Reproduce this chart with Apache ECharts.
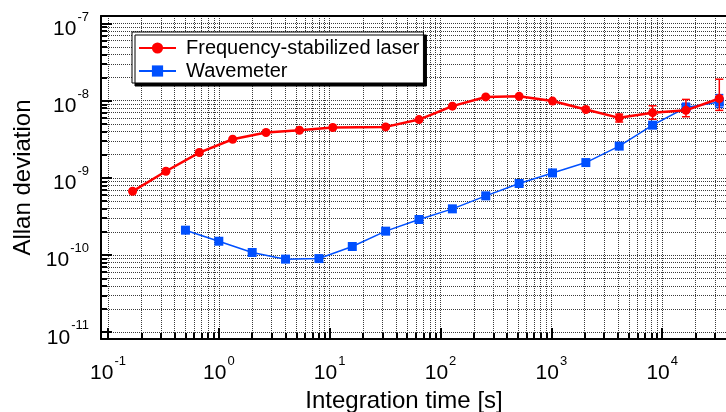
<!DOCTYPE html>
<html>
<head>
<meta charset="utf-8">
<script src="https://cdn.jsdelivr.net/npm/echarts@6/dist/echarts.min.js"></script>
<style>
html,body{margin:0;padding:0;background:#fff;}
#chart{width:726px;height:412px;}
</style>
</head>
<body>
<div id="chart"></div>
<script>
// ---- data ----
var RED_TAU  = [0.1667, 0.3333, 0.6667, 1.333, 2.667, 5.333, 10.67, 32, 64, 128, 256, 512, 1024, 2048, 4096, 8192, 16384, 32768];
var RED_ADEV = [6.7e-10, 1.22e-9, 2.13e-9, 3.17e-9, 3.87e-9, 4.15e-9, 4.5e-9, 4.58e-9, 5.7e-9, 8.5e-9, 1.12e-8, 1.14e-8, 9.9e-9, 7.7e-9, 6.0e-9, 7.0e-9, 7.5e-9, 1.07e-8];
var RED_ERR_TAU  = [4096, 8192, 16384, 32768];
var RED_ERR_LOW  = [5.3e-9, 5.75e-9, 6.2e-9, 7.5e-9];
var RED_ERR_HIGH = [6.7e-9, 8.6e-9, 1.04e-8, 1.9e-8];

var BLUE_TAU  = [0.5, 1, 2, 4, 8, 16, 32, 64, 128, 256, 512, 1024, 2048, 4096, 8192, 16384, 32768];
var BLUE_ADEV = [2.1e-10, 1.51e-10, 1.08e-10, 8.85e-11, 9.0e-11, 1.29e-10, 2.04e-10, 2.89e-10, 3.97e-10, 5.85e-10, 8.46e-10, 1.16e-9, 1.58e-9, 2.58e-9, 4.82e-9, 8.16e-9, 9.64e-9];
var BLUE_ERR_TAU  = [16384, 32768];
var BLUE_ERR_LOW  = [7.1e-9, 8.2e-9];
var BLUE_ERR_HIGH = [9.3e-9, 1.2e-8];

var X_MAJOR_EXP = [-1, 0, 1, 2, 3, 4, 5];
var Y_MAJOR_EXP = [-11, -10, -9, -8, -7];
var X_RANGE = [-1.063, 5.063];   // decades (log10 of seconds)
var Y_RANGE = [-11.088, -6.902]; // decades (log10 of Allan deviation)

var NAME_RED = 'Frequency-stabilized laser';
var NAME_BLUE = 'Wavemeter';

// ---- helpers ----
function minorValues(exps) {
  var out = [];
  for (var i = 0; i < exps.length - 1; i++) {
    for (var k = 1; k <= 9; k++) out.push(exps[i] + Math.log10(k));
  }
  out.push(exps[exps.length - 1]);
  return out;
}
function toLog(xs, ys) { return xs.map(function (x, i) { return [Math.log10(x), Math.log10(ys[i])]; }); }
function toLogErr(xs, lo, hi) { return xs.map(function (x, i) { return [Math.log10(x), Math.log10(lo[i]), Math.log10(hi[i])]; }); }

var FONT = '"Liberation Sans", Arial, Helvetica, sans-serif';
var labelRich = {
  b: { fontSize: 21, fontFamily: FONT, color: '#000', lineHeight: 22, verticalAlign: 'bottom' },
  s: { fontSize: 13, fontFamily: FONT, color: '#000', lineHeight: 13, verticalAlign: 'bottom', padding: [0, 0, 16, 1] }
};
function powLabel(v) { return '{b|10}{s|' + Math.round(v) + '}'; }

var gridStyle = { color: '#3a3a3a', width: 1, type: [1, 1] };

function errRenderer(color) {
  return function (params, api) {
    var x = api.value(0), lo = api.value(1), hi = api.value(2);
    var p1 = api.coord([x, lo]), p2 = api.coord([x, hi]);
    var w = 4;
    var st = { stroke: color, lineWidth: 1.5 };
    return { type: 'group', children: [
      { type: 'line', shape: { x1: p1[0], y1: p1[1], x2: p2[0], y2: p2[1] }, style: st },
      { type: 'line', shape: { x1: p1[0] - w, y1: p1[1], x2: p1[0] + w, y2: p1[1] }, style: st },
      { type: 'line', shape: { x1: p2[0] - w, y1: p2[1], x2: p2[0] + w, y2: p2[1] }, style: st }
    ] };
  };
}

var RED = '#ff0000', BLUE = '#0050ff';
var chart = echarts.init(document.getElementById('chart'), null, { renderer: 'canvas' });

var option = {
  animation: false,
  backgroundColor: '#fff',
  grid: { left: 101, top: 16, right: -54, bottom: 73, containLabel: false, outerBoundsMode: 'none' },
  legend: {
    orient: 'vertical', left: 132, top: 32,
    data: [NAME_RED, NAME_BLUE],
    itemWidth: 37, itemHeight: 14, itemGap: 1,
    padding: [5, 4, 1, 6],
    backgroundColor: '#fff', borderColor: '#000', borderWidth: 1,
    shadowColor: '#000', shadowBlur: 0, shadowOffsetX: 3, shadowOffsetY: 3,
    textStyle: { fontSize: 20, fontFamily: FONT, color: '#000', lineHeight: 22, padding: [0, 0, 0, 5] }
  },
  xAxis: [
    {
      type: 'value', min: X_RANGE[0], max: X_RANGE[1], position: 'bottom',
      name: 'Integration time [s]', nameLocation: 'middle', nameGap: 49,
      nameTextStyle: { fontSize: 24, fontFamily: FONT, color: '#000', padding: [0, 73, 0, 0] },
      axisLine: { show: true, onZero: false, lineStyle: { color: '#000', width: 2 } },
      axisTick: { show: true, inside: true, length: 11, customValues: X_MAJOR_EXP, lineStyle: { color: '#000', width: 2 } },
      axisLabel: { show: true, customValues: X_MAJOR_EXP, formatter: powLabel, rich: labelRich, margin: 23 },
      splitLine: { show: false }
    },
    {
      type: 'value', min: X_RANGE[0], max: X_RANGE[1], position: 'bottom',
      axisLine: { show: false, onZero: false },
      axisTick: { show: true, inside: true, length: 6, customValues: minorValues(X_MAJOR_EXP), lineStyle: { color: '#000', width: 2 } },
      axisLabel: { show: false },
      splitLine: { show: true, lineStyle: gridStyle }
    },
    {
      type: 'value', min: X_RANGE[0], max: X_RANGE[1], position: 'top',
      axisLine: { show: true, onZero: false, lineStyle: { color: '#000', width: 2 } },
      axisTick: { show: false }, axisLabel: { show: false }, splitLine: { show: false }
    }
  ],
  yAxis: [
    {
      type: 'value', min: Y_RANGE[0], max: Y_RANGE[1], position: 'left',
      name: 'Allan deviation', nameLocation: 'middle', nameGap: 66,
      nameTextStyle: { fontSize: 24, fontFamily: FONT, color: '#000' },
      axisLine: { show: true, onZero: false, lineStyle: { color: '#000', width: 2 } },
      axisTick: { show: true, inside: true, length: 11, customValues: Y_MAJOR_EXP, lineStyle: { color: '#000', width: 2 } },
      axisLabel: { show: true, customValues: Y_MAJOR_EXP, formatter: powLabel, rich: labelRich, margin: 12, padding: [10, 0, 0, 0] },
      splitLine: { show: false }
    },
    {
      type: 'value', min: Y_RANGE[0], max: Y_RANGE[1], position: 'left',
      axisLine: { show: false, onZero: false },
      axisTick: { show: true, inside: true, length: 6, customValues: minorValues(Y_MAJOR_EXP), lineStyle: { color: '#000', width: 2 } },
      axisLabel: { show: false },
      splitLine: { show: true, lineStyle: gridStyle }
    },
    {
      type: 'value', min: Y_RANGE[0], max: Y_RANGE[1], position: 'right',
      axisLine: { show: true, onZero: false, lineStyle: { color: '#000', width: 2 } },
      axisTick: { show: false }, axisLabel: { show: false }, splitLine: { show: false }
    }
  ],
  series: [
    {
      name: 'Wavemeter error', type: 'custom', xAxisIndex: 0, yAxisIndex: 0,
      renderItem: errRenderer(BLUE), encode: { x: 0, y: [1, 2] },
      data: toLogErr(BLUE_ERR_TAU, BLUE_ERR_LOW, BLUE_ERR_HIGH), z: 3
    },
    {
      name: NAME_BLUE, type: 'line', xAxisIndex: 0, yAxisIndex: 0,
      data: toLog(BLUE_TAU, BLUE_ADEV),
      symbol: 'rect', symbolSize: 9, showAllSymbol: true,
      lineStyle: { color: BLUE, width: 1.5 }, itemStyle: { color: BLUE }, z: 4
    },
    {
      name: 'Laser error', type: 'custom', xAxisIndex: 0, yAxisIndex: 0,
      renderItem: errRenderer(RED), encode: { x: 0, y: [1, 2] },
      data: toLogErr(RED_ERR_TAU, RED_ERR_LOW, RED_ERR_HIGH), z: 5
    },
    {
      name: NAME_RED, type: 'line', xAxisIndex: 0, yAxisIndex: 0,
      data: toLog(RED_TAU, RED_ADEV),
      symbol: 'circle', symbolSize: 9, showAllSymbol: true,
      lineStyle: { color: RED, width: 2.5 }, itemStyle: { color: RED }, z: 6
    }
  ]
};
chart.setOption(option);
</script>
</body>
</html>
